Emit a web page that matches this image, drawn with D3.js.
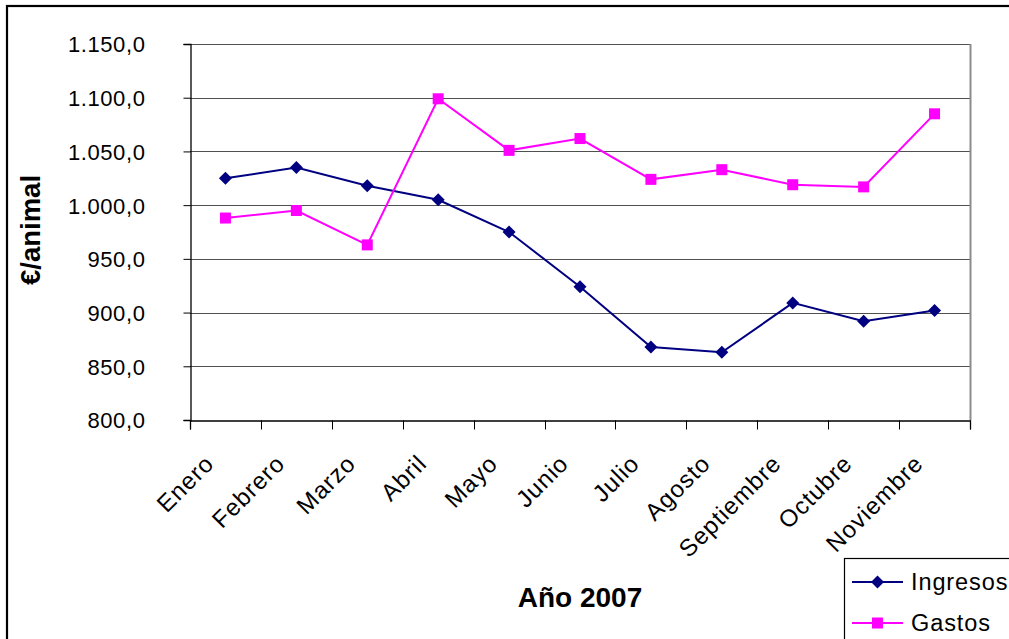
<!DOCTYPE html>
<html lang="es">
<head>
<meta charset="utf-8">
<script src="https://cdn.jsdelivr.net/npm/d3@7"></script>
<style>
  html, body { margin: 0; padding: 0; background: #fff; }
  svg { display: block; font-family: "Liberation Sans", Arial, sans-serif; }
</style>
</head>
<body>
<svg id="chart" width="1009" height="639"></svg>
<script>
// Meses del año 2007
const months = ["Enero", "Febrero", "Marzo", "Abril", "Mayo", "Junio",
                "Julio", "Agosto", "Septiembre", "Octubre", "Noviembre"];
// €/animal por mes
const ingresos = [1025, 1035, 1018, 1005, 975, 924, 868, 863, 909, 892, 902];
const gastos   = [988, 995, 963, 1099, 1051, 1062, 1024, 1033, 1019, 1017, 1085];
// Eje vertical
const yTicks = [800, 850, 900, 950, 1000, 1050, 1100, 1150];

const svg = d3.select("#chart");
const plot = { left: 190, top: 44, right: 970, bottom: 420 };

// Marco exterior del gráfico
svg.append("rect")
  .attr("x", 7).attr("y", 6).attr("width", 1020).attr("height", 660)
  .attr("fill", "#fff").attr("stroke", "#000").attr("stroke-width", 2.2);

const x = d3.scaleBand().domain(months).range([plot.left, plot.right]).padding(0);
const y = d3.scaleLinear().domain([800, 1150]).range([plot.bottom, plot.top]);

const fmt = v => {
  const s = d3.format(",.1f")(v);
  return s.replace(/,/g, "#").replace(".", ",").replace(/#/g, ".");
};

// Líneas de división horizontales
svg.append("g")
  .selectAll("line")
  .data(yTicks.filter(t => t > 800))
  .join("line")
  .attr("x1", plot.left).attr("x2", plot.right)
  .attr("y1", d => Math.round(y(d)) + 0.5).attr("y2", d => Math.round(y(d)) + 0.5)
  .attr("stroke", "#505050").attr("stroke-width", 1.2);

// Borde derecho del área de trazado
svg.append("line")
  .attr("x1", plot.right + 0.5).attr("x2", plot.right + 0.5)
  .attr("y1", plot.top).attr("y2", plot.bottom)
  .attr("stroke", "#8c8c8c").attr("stroke-width", 2);

// Eje Y
const yAxis = svg.append("g")
  .attr("transform", `translate(${plot.left + 0.5},0)`)
  .call(d3.axisLeft(y).tickValues(yTicks).tickSize(7).tickPadding(38).tickFormat(fmt));
yAxis.select(".domain").attr("stroke", "#000").attr("stroke-width", 1.3);
yAxis.selectAll(".tick line").attr("stroke", "#000");
yAxis.selectAll(".tick text")
  .attr("font-size", 22).attr("fill", "#000").attr("letter-spacing", 0.6)
  .attr("font-family", "'Liberation Sans', Arial, sans-serif")
  .attr("dy", "0.36em");

// Eje X
const xAxis = svg.append("g")
  .attr("transform", `translate(0,${plot.bottom + 0.5})`)
  .call(d3.axisBottom(x).tickSize(9).tickFormat(""));
xAxis.select(".domain").attr("stroke", "#000").attr("stroke-width", 1.3);
// marcas en los límites de cada categoría
xAxis.selectAll(".tick").remove();
xAxis.selectAll("line.sep")
  .data(months.map(m => x(m)).concat([plot.right]))
  .join("line").attr("class", "sep")
  .attr("x1", d => Math.round(d) + 0.5).attr("x2", d => Math.round(d) + 0.5)
  .attr("y1", 0).attr("y2", 9)
  .attr("stroke", "#000");

// Etiquetas de los meses, giradas
svg.append("g")
  .selectAll("text")
  .data(months)
  .join("text")
  .attr("transform", d => `translate(${x(d) + x.bandwidth() / 2 - 10},465) rotate(-45)`)
  .attr("text-anchor", "end")
  .attr("font-size", 24).attr("letter-spacing", 1)
  .attr("fill", "#000")
  .text(d => d);

// Títulos de los ejes
svg.append("text")
  .attr("transform", "translate(40,230) rotate(-90)")
  .attr("text-anchor", "middle")
  .attr("font-size", 27.5).attr("font-weight", "bold")
  .text("€/animal");

svg.append("text")
  .attr("x", 580).attr("y", 607)
  .attr("text-anchor", "middle")
  .attr("font-size", 28).attr("font-weight", "bold")
  .text("Año 2007");

// Series
const cx = d => x(d) + x.bandwidth() / 2;
const line = d3.line().x((d, i) => cx(months[i])).y(d => y(d));

const series = [
  { name: "Ingresos", values: ingresos, color: "#000080", symbol: "diamond" },
  { name: "Gastos", values: gastos, color: "#ff00ff", symbol: "square" }
];

const drawMarker = (g, s, px, py) => {
  if (s.symbol === "diamond") {
    g.append("path")
      .attr("d", `M${px},${py - 6.5}L${px + 6.5},${py}L${px},${py + 6.5}L${px - 6.5},${py}Z`)
      .attr("fill", s.color);
  } else {
    g.append("rect")
      .attr("x", px - 5.5).attr("y", py - 5.5).attr("width", 11).attr("height", 11)
      .attr("fill", s.color);
  }
};

series.forEach(s => {
  const g = svg.append("g");
  g.append("path")
    .datum(s.values)
    .attr("d", line)
    .attr("fill", "none").attr("stroke", s.color).attr("stroke-width", 2);
  s.values.forEach((v, i) => drawMarker(g, s, cx(months[i]), y(v)));
});

// Leyenda
const legend = svg.append("g");
legend.append("rect")
  .attr("x", 844.5).attr("y", 558.5).attr("width", 200).attr("height", 120)
  .attr("fill", "#fff").attr("stroke", "#000").attr("stroke-width", 1.2);
series.forEach((s, i) => {
  const ly = 582 + i * 41;
  legend.append("line")
    .attr("x1", 852).attr("x2", 903).attr("y1", ly).attr("y2", ly)
    .attr("stroke", s.color).attr("stroke-width", 2);
  drawMarker(legend, s, 877.5, ly);
  legend.append("text")
    .attr("x", 911).attr("y", ly + 7.5)
    .attr("font-size", 23.5).attr("letter-spacing", 0.9)
    .attr("fill", "#000")
    .text(s.name);
});
</script>
</body>
</html>
